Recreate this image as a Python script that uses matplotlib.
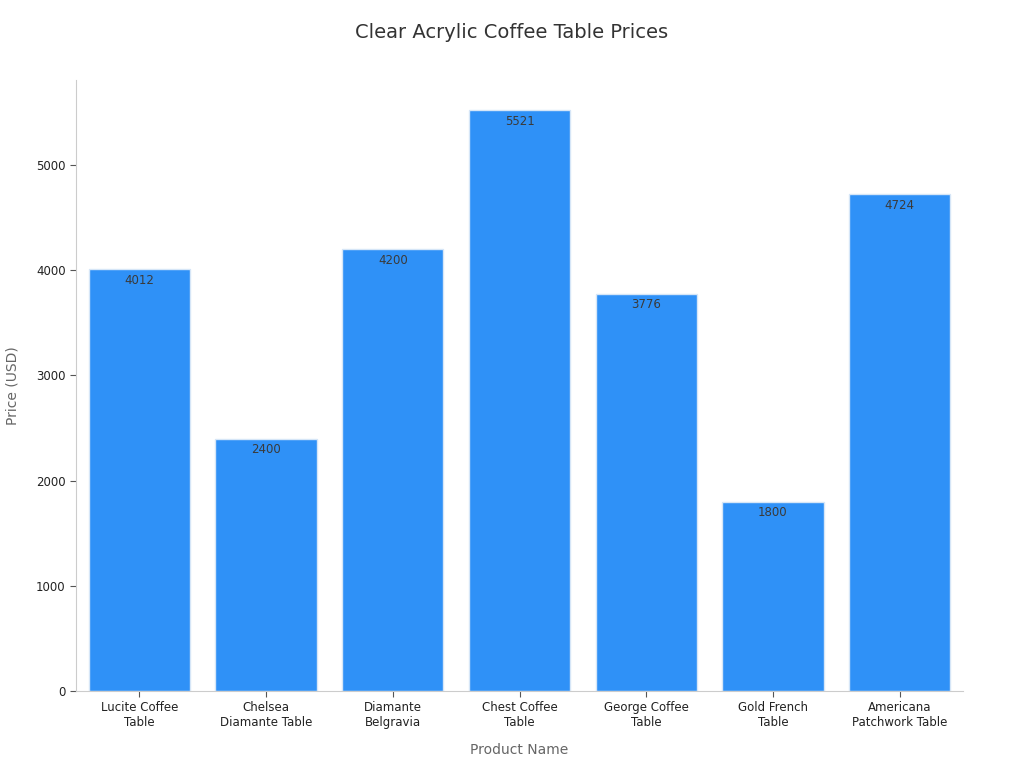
import matplotlib.pyplot as plt

products = ["Lucite Coffee\nTable", "Chelsea\nDiamante Table", "Diamante\nBelgravia",
            "Chest Coffee\nTable", "George Coffee\nTable", "Gold French\nTable",
            "Americana\nPatchwork Table"]
prices = [4012, 2400, 4200, 5521, 3776, 1800, 4724]

plt.rcParams['font.family'] = ['DejaVu Sans']

fig = plt.figure(figsize=(10.24, 7.68), dpi=100)
ax = fig.add_axes([76 / 1024, 1 - 691 / 768, (963 - 76) / 1024, (691 - 80) / 768])

x = range(len(products))
bars = ax.bar(x, prices, width=0.8, color="#2f91f7", edgecolor="#d6e6f7", linewidth=1)

for b, v in zip(bars, prices):
    ax.text(b.get_x() + b.get_width() / 2, v - 45, str(v), ha="center", va="top",
            fontsize=8.5, color="#3a3a3a")

ax.set_xlim(-0.5, 6.5)
ax.set_ylim(0, 5808)
ax.set_xticks(list(x))
ax.set_xticklabels(products, fontsize=8.5, color="#222222")
ax.set_yticks([0, 1000, 2000, 3000, 4000, 5000])
ax.tick_params(axis="y", labelsize=8.5, labelcolor="#222222", color="#555555", length=4)
ax.tick_params(axis="x", color="#555555", length=4)

for s in ["top", "right"]:
    ax.spines[s].set_visible(False)
for s in ["left", "bottom"]:
    ax.spines[s].set_color("#cccccc")

ax.set_xlabel("Product Name", fontsize=10, color="#666666", labelpad=10)
ax.set_ylabel("Price (USD)", fontsize=10, color="#666666", labelpad=12)
fig.suptitle("Clear Acrylic Coffee Table Prices", fontsize=14, color="#333333", y=0.97)

fig.savefig("out.png", dpi=100)
